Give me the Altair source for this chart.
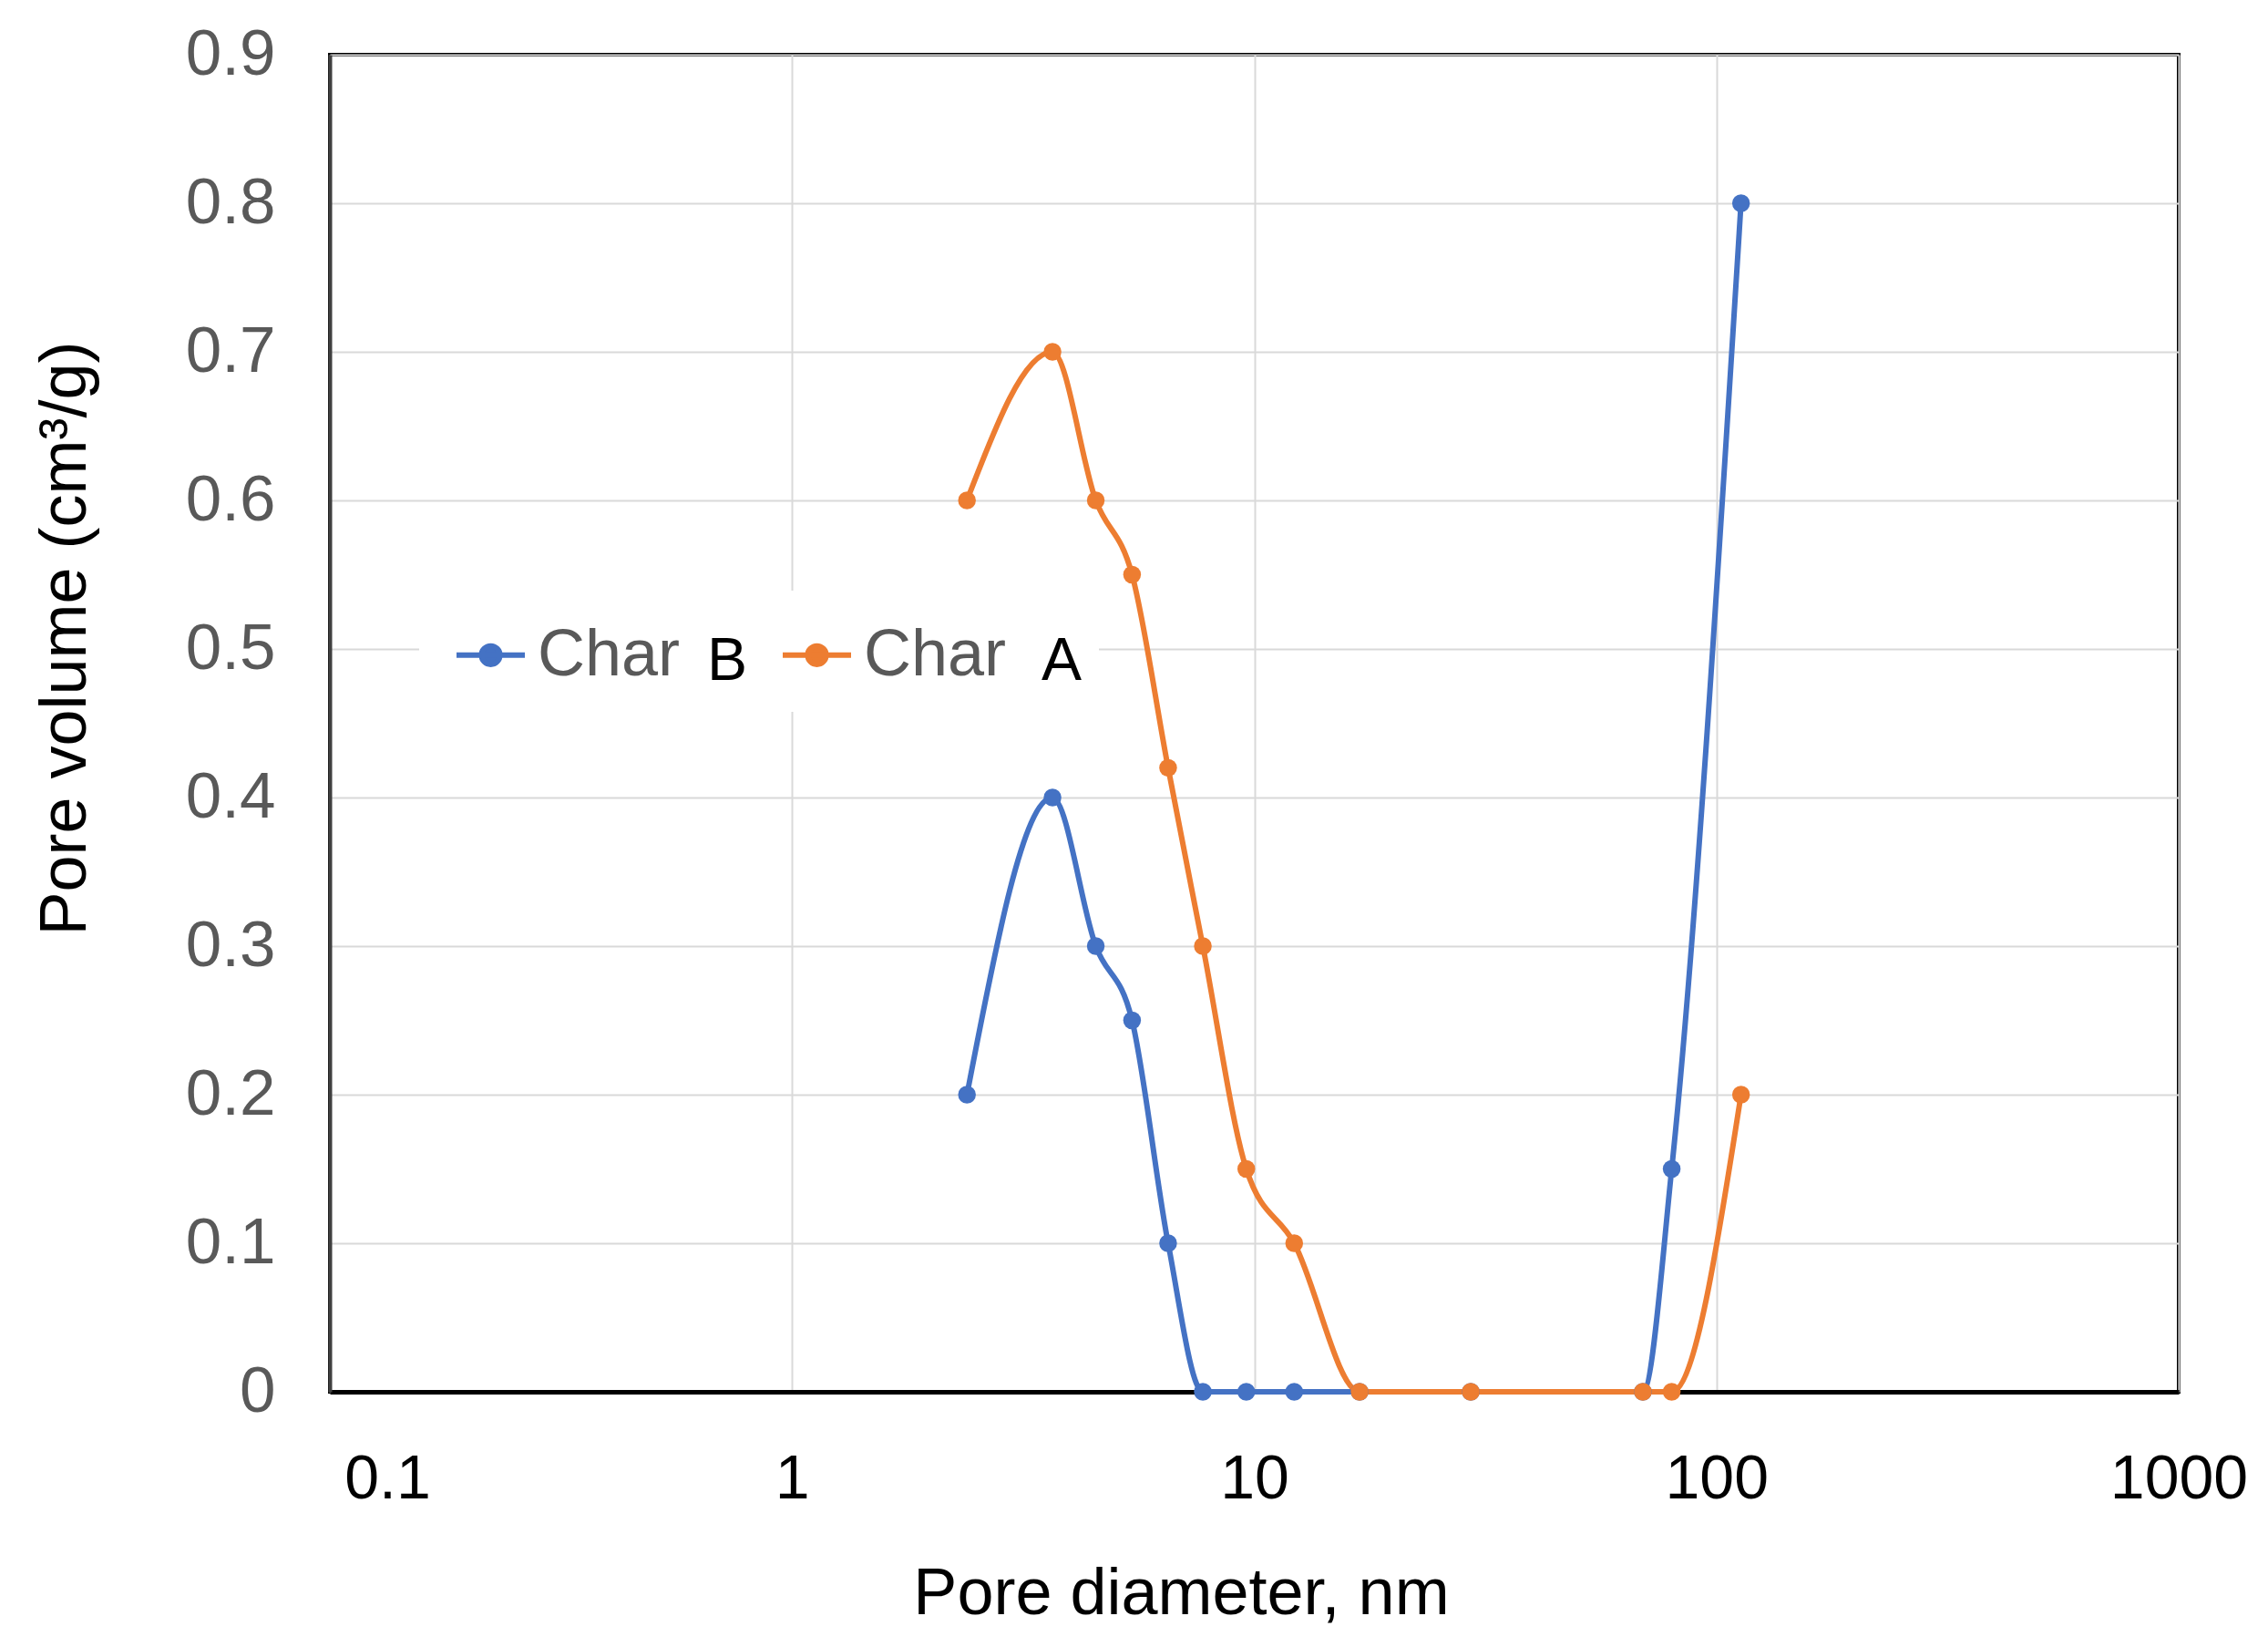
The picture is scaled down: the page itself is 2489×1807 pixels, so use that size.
import altair as alt
import pandas as pd

# ---- data ----
diameters = [2.39, 3.66, 4.54, 5.44, 6.51, 7.74, 9.61, 12.2, 16.9, 29.4, 69.3, 80.0, 113.0]
char_b = [0.2, 0.4, 0.3, 0.25, 0.1, 0, 0, 0, 0, 0, 0, 0.15, 0.8]
char_a = [0.6, 0.7, 0.6, 0.55, 0.42, 0.3, 0.15, 0.1, 0, 0, 0, 0, 0.2]
series_names = ["Char B", "Char A"]
series_colors = ["#4472C4", "#ED7D31"]
x_ticks = [0.1, 1, 10, 100, 1000]
y_ticks = [0, 0.1, 0.2, 0.3, 0.4, 0.5, 0.6, 0.7, 0.8, 0.9]

rows = []
for name, vals in zip(series_names, [char_b, char_a]):
    for d, v in zip(diameters, vals):
        rows.append({"d": d, "v": v, "series": name})
df = pd.DataFrame(rows)

FONT = "Liberation Sans"

x_enc = alt.X(
    "d:Q",
    scale=alt.Scale(type="log", domain=[0.1, 1000], nice=False),
    axis=alt.Axis(
        values=x_ticks, format="~g", title="Pore diameter, nm",
        labelFontSize=68, labelColor="black", labelFont=FONT,
        labelBaseline="alphabetic", labelPadding=116, labelFlush=False,
        labelOffset={"condition": {"test": "datum.value < 0.5", "value": 63}, "value": 0},
        ticks=False, domain=True, domainColor="black", domainWidth=5,
        grid=True, gridColor="#d9d9d9", gridWidth=2,
        titleFontSize=72, titleFont=FONT, titleFontWeight="normal", titleColor="black",
        titleX=934, titleY=243, titleAlign="center", titleBaseline="alphabetic",
    ),
)
y_enc = alt.Y(
    "v:Q",
    scale=alt.Scale(domain=[0, 0.9], nice=False),
    axis=alt.Axis(
        values=y_ticks, format="~g", title="Pore volume (cm³/g)",
        labelFontSize=71, labelColor="#595959", labelFont=FONT, labelPadding=60,
        ticks=False, domain=True, domainColor="#404040", domainWidth=4,
        grid=True, gridColor="#d9d9d9", gridWidth=2,
        titleFontSize=72, titleFont=FONT, titleFontWeight="normal", titleColor="black",
        titleX=-291, titleY=640, titleAlign="center", titleBaseline="middle", titleAngle=-90,
    ),
)

legend_symbol = "M-1,0H1M0.27,0A0.27,0.27,0,1,1,-0.27,0A0.27,0.27,0,1,1,0.27,0Z"
color_enc = alt.Color(
    "series:N",
    scale=alt.Scale(domain=series_names, range=series_colors),
    legend=alt.Legend(
        title=None, orient="none", legendX=103, legendY=585, direction="horizontal",
        symbolType=legend_symbol, symbolSize=5625, symbolStrokeWidth=6,
        labelFontSize=72, labelFont=FONT, labelColor="#595959",
        labelExpr="'Char'", labelOffset=11, columnPadding=100, padding=33,
        symbolOffset=0,
    ),
)

blank = pd.DataFrame({"k": [0]})
legend_bg = alt.Chart(blank).mark_rect(color="white").encode(
    x=alt.value(98), x2=alt.value(844), y=alt.value(588), y2=alt.value(721)
)
lines = alt.Chart(df).mark_line(strokeWidth=6, interpolate="monotone").encode(
    x=x_enc, y=y_enc, color=color_enc, detail="series:N"
)
points = alt.Chart(df).mark_point(filled=True, size=380, opacity=1, shape="circle").encode(
    x="d:Q", y="v:Q", color=alt.Color("series:N")
)
text_b = alt.Chart(blank).mark_text(text="B", fontSize=66, font=FONT, color="black",
                                    align="left", baseline="alphabetic").encode(
    x=alt.value(414), y=alt.value(686)
)
text_a = alt.Chart(blank).mark_text(text="A", fontSize=66, font=FONT, color="black",
                                    align="left", baseline="alphabetic").encode(
    x=alt.value(781), y=alt.value(686)
)

chart = alt.layer(legend_bg, lines, points, text_b, text_a).properties(
    width=2029, height=1467,
    padding={"left": 354, "top": 52, "right": 90, "bottom": 270},
    autosize=alt.AutoSizeParams(type="none"),
    background="white",
).configure_view(stroke="black", strokeWidth=4)

chart.save("out.html", embed_options={"renderer": "svg", "actions": False})
